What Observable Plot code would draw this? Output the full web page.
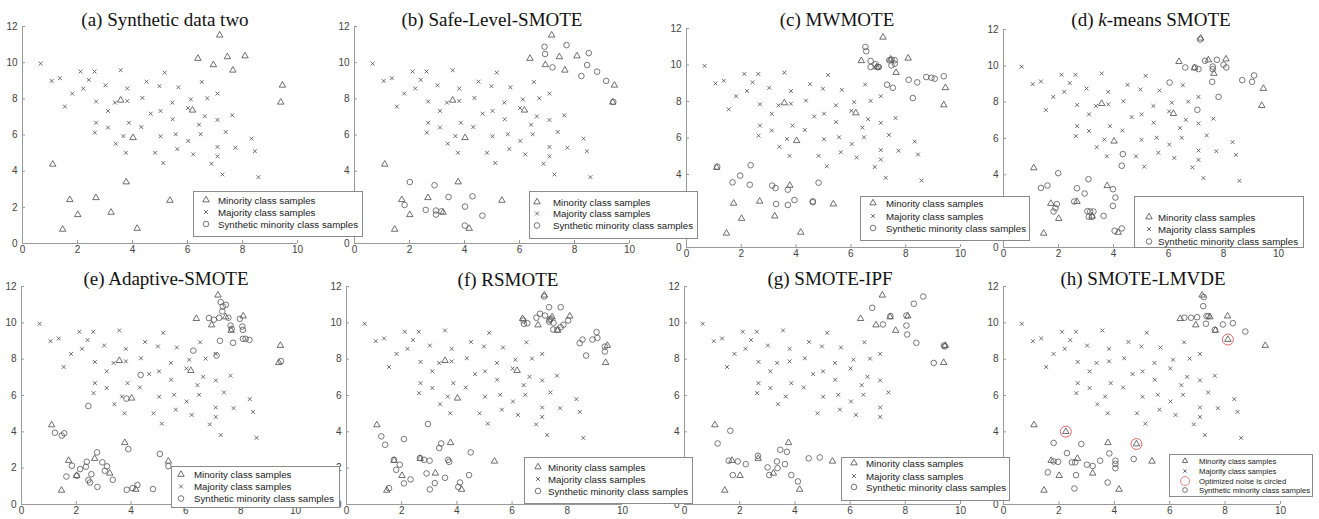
<!DOCTYPE html>
<html><head><meta charset="utf-8">
<script src="https://cdn.jsdelivr.net/npm/d3@7"></script>
<script src="https://cdn.jsdelivr.net/npm/@observablehq/plot@0.6"></script>
<style>
html,body{margin:0;padding:0;background:#fff;}
#root{position:relative;width:1319px;height:519px;overflow:hidden;background:#fff;}
.panel{position:absolute;}
.panel svg{overflow:visible;display:block;}
#overlay{position:absolute;left:0;top:0;pointer-events:none;}
</style></head><body><div id="root"></div>
<script>
// ---------- data ----------
const xTicks = [0, 2, 4, 6, 8, 10];
const yTicks = [0, 2, 4, 6, 8, 10, 12];

const majority = [
 [0.66,9.95],[1.06,8.99],[1.36,9.14],[1.54,7.57],[1.81,8.29],[2.11,9.51],[2.21,8.57],[2.41,9.05],[2.62,9.51],[2.68,7.85],
 [2.68,6.68],[2.63,6.13],[3.02,8.75],[3.11,7.33],[3.11,6.41],[3.36,7.79],[3.39,5.52],[3.57,9.58],[3.67,5.94],[3.76,5.02],
 [3.81,8.57],[3.81,7.88],[3.87,6.68],[4.36,8.05],[4.32,6.44],[4.51,8.95],[4.66,7.18],[4.82,5.02],[4.98,8.70],[5.02,7.33],
 [5.02,5.93],[5.12,4.45],[5.17,9.45],[5.45,7.79],[5.46,6.87],[5.57,6.04],[5.63,5.22],[5.67,8.64],[6.02,7.49],[6.03,5.67],
 [6.12,7.97],[6.21,4.93],[6.52,8.93],[6.63,7.03],[6.42,6.57],[6.48,6.04],[6.72,8.03],[7.09,8.29],[7.09,6.83],[7.09,5.34],
 [7.09,4.82],[6.87,4.41],[7.27,3.82],[7.63,7.09],[7.39,6.17],[7.74,5.30],[8.33,5.80],[8.45,5.10],[8.58,3.67]
];
// majority samples filtered out by SMOTE-IPF
const ipfRemovedMajority = [[3.76,5.02],[5.12,4.45],[6.87,4.41],[7.27,3.82],[7.63,7.09],[7.74,5.30],[8.33,5.80],[8.45,5.10],[8.58,3.67]];

const minority = [
 [7.17,11.52],[6.38,10.23],[6.94,9.88],[7.45,10.32],[8.09,10.37],[7.65,9.58],[9.45,8.75],[9.39,7.81],[3.57,7.92],[6.18,7.37],
 [4.02,5.85],[1.10,4.38],[3.77,3.40],[1.72,2.42],[2.67,2.53],[5.36,2.38],[3.22,1.72],[2.01,1.59],[1.46,0.78],[4.17,0.83]
];
const ipfRemovedMinority = [[3.57,7.92],[6.18,7.37],[4.02,5.85]];
const lmvdeRemovedMinority = [[3.57,7.92],[6.18,7.37],[4.02,5.85],[9.39,7.81]];
const lmvdeOptimized = [[2.25,4.01],[4.80,3.33],[8.10,9.08]];

const synthB = [[6.91,10.88],[7.71,10.97],[6.93,10.48],[7.20,9.74],[8.52,10.53],[8.46,9.87],[8.25,9.26],[8.82,9.50],[9.15,8.99],[9.41,7.83],
 [2.01,3.40],[2.91,3.22],[1.82,2.13],[2.59,1.86],[2.96,1.82],[2.96,1.60],[3.16,1.78],[3.42,2.57],[4.29,2.61],[4.02,2.04],[4.65,1.54],[4.01,0.99]];
const synthC = [[6.53,10.99],[6.56,10.75],[6.72,10.22],[6.72,9.89],[6.90,10.04],[6.98,9.89],[7.02,9.89],[7.40,10.26],[7.49,10.29],[7.48,9.98],
 [7.60,10.26],[7.60,10.07],[7.32,8.92],[7.53,8.75],[8.11,9.19],[8.42,9.05],[8.26,8.19],[8.75,9.34],[8.94,9.30],[9.06,9.25],[9.39,9.38],
 [1.12,4.43],[1.68,3.57],[1.96,3.94],[2.34,4.51],[2.31,3.44],[3.13,3.39],[3.25,3.26],[3.70,3.17],[4.82,3.55],[3.27,2.38],[3.70,2.33],
 [3.94,2.60],[4.61,2.53],[4.61,2.48]];
const synthD = [[7.15,11.45],[6.61,9.91],[6.96,9.91],[7.09,9.82],[7.33,10.28],[7.76,10.33],[7.61,9.96],[7.61,9.82],[8.00,10.06],[8.10,9.91],
 [7.59,9.12],[7.82,8.29],[7.05,7.58],[6.04,9.08],[8.68,9.21],[9.04,9.12],[9.11,9.47],[4.34,5.14],[4.30,4.50],[1.99,4.09],[1.36,3.28],
 [1.60,3.41],[3.09,3.76],[2.67,3.26],[2.95,2.97],[3.98,3.21],[4.07,2.75],[2.57,2.53],[1.94,2.39],[1.89,2.17],[1.82,1.98],[3.05,2.00],
 [3.15,1.98],[3.27,1.98],[3.10,1.69],[3.22,1.69],[3.64,1.74],[3.98,2.29],[4.04,0.92],[4.30,1.05]];
const synthE = [[7.27,11.14],[7.35,10.90],[7.46,10.99],[7.33,10.63],[7.55,10.28],[7.21,10.28],[7.02,10.17],[6.84,10.26],[7.97,10.22],[7.63,9.85],
 [7.67,9.67],[8.06,9.80],[8.08,9.61],[8.08,9.12],[8.18,9.12],[8.32,9.06],[7.24,9.01],[7.72,8.90],[6.27,8.47],[7.12,8.20],[9.47,7.89],
 [4.35,7.13],[3.83,5.83],[2.44,5.42],[1.22,3.95],[1.47,3.79],[1.56,3.92],[3.90,3.05],[2.76,2.87],[2.95,2.32],[3.12,2.10],[3.04,1.86],
 [1.84,2.13],[2.14,1.95],[2.35,2.08],[2.38,2.35],[2.55,1.67],[2.44,1.34],[2.50,1.21],[2.77,0.97],[2.02,1.58],[1.64,1.54],[3.33,1.36],
 [3.84,0.81],[4.05,0.90],[4.23,1.07],[4.80,0.85],[5.05,2.78],[5.36,2.11]];
const synthF = [[7.16,11.45],[7.34,10.86],[7.76,10.86],[6.88,10.28],[7.01,10.50],[7.19,10.40],[7.36,10.17],[7.50,10.00],[7.34,10.07],[7.40,10.22],
 [6.43,9.94],[6.55,9.98],[6.41,10.13],[7.49,9.63],[7.64,9.63],[7.76,9.76],[7.86,9.89],[8.03,10.13],[8.45,8.88],[8.55,9.08],[8.68,8.20],
 [8.91,9.08],[9.06,9.49],[9.09,9.17],[9.36,8.69],[9.36,8.42],[2.95,4.43],[1.26,3.75],[1.40,3.29],[2.08,3.60],[3.43,3.36],[3.36,3.11],
 [4.50,2.87],[1.72,2.46],[1.93,2.19],[1.80,1.91],[2.08,1.16],[2.32,1.38],[2.81,2.46],[3.01,2.41],[2.66,2.56],[2.90,1.71],[3.20,1.18],
 [3.02,0.83],[3.57,1.47],[3.68,2.46],[3.72,2.35],[4.11,1.21],[4.05,0.97],[4.44,1.62],[1.54,0.90]];
const synthG = [[8.65,11.45],[8.31,11.05],[6.80,10.83],[7.46,10.37],[8.04,10.40],[7.19,9.91],[8.04,9.85],[8.07,9.36],[8.40,8.90],[9.40,8.75],
 [9.43,8.70],[9.03,7.79],[1.20,3.36],[1.66,4.06],[1.60,2.41],[1.93,2.37],[2.22,2.22],[1.75,1.62],[2.66,2.68],[3.47,3.01],[3.71,2.90],
 [3.35,2.37],[3.64,2.22],[3.01,2.04],[3.07,1.62],[3.37,2.00],[3.87,1.62],[4.11,1.27],[4.50,2.54],[4.90,2.59]];
const synthH = [[7.23,11.42],[7.21,10.92],[6.53,10.28],[6.77,10.28],[6.99,10.31],[7.33,10.37],[7.40,10.37],[7.31,9.95],[7.92,9.91],[8.28,9.98],
 [7.63,9.62],[8.73,9.52],[1.81,3.39],[2.81,3.33],[2.29,2.83],[3.82,2.81],[1.81,2.37],[1.97,2.35],[2.47,2.32],[2.59,2.32],[3.01,2.19],
 [3.22,2.12],[3.49,2.41],[4.04,2.41],[4.04,2.23],[4.04,2.00],[4.70,2.50],[1.60,1.77],[2.62,1.62],[3.76,1.21],[2.56,0.88]];

const titles = [
 [["(a) Synthetic data two", false]],
 [["(b) Safe-Level-SMOTE", false]],
 [["(c) MWMOTE", false]],
 [["(d) ", false], ["k", true], ["-means SMOTE", false]],
 [["(e) Adaptive-SMOTE", false]],
 [["(f) RSMOTE", false]],
 [["(g) SMOTE-IPF", false]],
 [["(h) SMOTE-LMVDE", false]]
];
const legendLabels = ["Minority class samples", "Majority class samples", "Synthetic minority class samples"];
const legendLabelsH = ["Minority class samples", "Majority class samples", "Optimized noise is circled", "Synthetic minority class samples"];

// ---------- composition ----------
const without = (arr, rem) => arr.filter(p => !rem.some(q => q[0] === p[0] && q[1] === p[1]));
const majorityIPF = without(majority, ipfRemovedMajority);
const minorityIPF = without(minority, ipfRemovedMinority);
const minorityLMVDE = without(minority, lmvdeRemovedMinority).concat(lmvdeOptimized);

const sets = [
 {maj: majority, min: minority, syn: [], noise: []},
 {maj: majority, min: minority, syn: synthB, noise: []},
 {maj: majority, min: minority, syn: synthC, noise: []},
 {maj: majority, min: minority, syn: synthD, noise: []},
 {maj: majority, min: minority, syn: synthE, noise: []},
 {maj: majority, min: minority, syn: synthF, noise: []},
 {maj: majorityIPF, min: minorityIPF, syn: synthG, noise: []},
 {maj: majority, min: minorityLMVDE, syn: synthH, noise: lmvdeOptimized}
];

// ---------- layout (page pixels) ----------
const layout = [
 {x0:22, x10:297, y12:26, y0:243, tx:165, ty:26, lg:{box:[193,191,362,236], rows:[200,212,224], sx:206, tx:218, fs:9.7}},
 {x0:354, x10:629, y12:26, y0:243, tx:492, ty:26, lg:{box:[529,191,697,238], rows:[202,213.5,225.5], sx:537, tx:553, fs:9.7}},
 {x0:686, x10:960, y12:28, y0:247, tx:837, ty:26, lg:{box:[860,196,1029,240], rows:[203,216,228], sx:873, tx:886, fs:9.7}},
 {x0:1003, x10:1278, y12:29, y0:247, tx:1151, ty:26, lg:{box:[1134,196,1303,247], rows:[217,229,241.5], sx:1149, tx:1158, fs:9.7}},
 {x0:21, x10:295, y12:286, y0:504, tx:166, ty:285, lg:{box:[171,466,339,507], rows:[474.5,486.5,498.5], sx:181, tx:194, fs:9.7}},
 {x0:346, x10:622, y12:286, y0:504, tx:508, ty:286, lg:{box:[524,457,692,503], rows:[467,479,491], sx:538, tx:548, fs:9.7}},
 {x0:684, x10:960, y12:286, y0:504, tx:830, ty:285, lg:{box:[841,457,1009,500], rows:[463,476,487], sx:854, tx:866, fs:9.7}},
 {x0:1003, x10:1280, y12:286, y0:504, tx:1143, ty:285, lg:{box:[1169,454,1312,496], rows:[461,471,481,490], sx:1185, tx:1199, fs:7.7}}
];

const ML = 26, MR = 12, MT = 30, MB = 20;
const R_TRI = 2.4, R_TIMES = 1.9, R_CIRC = 2.8, R_NOISE = 5.5;
const symTimes = d3.symbolTimes || d3.symbolCross;
const markColor = "#4a4a4a";
const axisColor = "#9a9a9a";
const root = document.getElementById("root");

layout.forEach((L, i) => {
  const S = sets[i];
  const w = L.x10 - L.x0 + ML + MR;
  const h = L.y0 - L.y12 + MT + MB;
  const fig = Plot.plot({
    width: w, height: h,
    marginLeft: ML, marginRight: MR, marginTop: MT, marginBottom: MB,
    x: {domain: [0, 10]},
    y: {domain: [0, 12]},
    style: {background: "transparent", fontFamily: "'Liberation Sans', Arial, sans-serif", fontSize: "10px", overflow: "visible"},
    marks: [
      Plot.ruleY([0], {stroke: axisColor, strokeWidth: 1}),
      Plot.ruleX([0], {stroke: axisColor, strokeWidth: 1}),
      Plot.axisX({ticks: xTicks, tickSize: -3, tickPadding: 5, stroke: axisColor, fill: "#444", label: null, fontSize: 10}),
      Plot.axisY({ticks: yTicks, tickSize: -3, tickPadding: 8, stroke: axisColor, fill: "#444", label: null, fontSize: 10}),
      Plot.dot(S.maj, {x: d => d[0], y: d => d[1], symbol: symTimes, r: R_TIMES, stroke: markColor, fill: "none", strokeWidth: 0.8}),
      Plot.dot(S.min, {x: d => d[0], y: d => d[1], symbol: "triangle", r: R_TRI, stroke: markColor, fill: "none", strokeWidth: 0.8}),
      Plot.dot(S.syn, {x: d => d[0], y: d => d[1], symbol: "circle", r: R_CIRC, stroke: "#555", fill: "none", strokeWidth: 0.8}),
      Plot.dot(S.noise, {x: d => d[0], y: d => d[1], symbol: "circle", r: R_NOISE, stroke: "#e06666", fill: "none", strokeWidth: 1})
    ]
  });
  const div = document.createElement("div");
  div.className = "panel";
  div.style.left = (L.x0 - ML) + "px";
  div.style.top = (L.y12 - MT) + "px";
  div.appendChild(fig);
  root.appendChild(div);
});

// ---------- overlay: titles & legends ----------
const ov = d3.select(root).append("svg").attr("id", "overlay").attr("width", 1319).attr("height", 519);
layout.forEach((L, i) => {
  const t = ov.append("text").attr("x", L.tx).attr("y", L.ty).attr("text-anchor", "middle")
    .attr("font-family", "'Liberation Serif', 'Times New Roman', serif").attr("font-size", 19).attr("fill", "#111");
  titles[i].forEach(([s, it]) => t.append("tspan").attr("font-style", it ? "italic" : "normal").text(s));

  const g = L.lg;
  const [bx0, by0, bx1, by1] = g.box;
  ov.append("rect").attr("x", bx0 + 0.5).attr("y", by0 + 0.5).attr("width", bx1 - bx0).attr("height", by1 - by0)
    .attr("fill", "#fff").attr("stroke", "#8a8a8a").attr("stroke-width", 1);
  const isH = i === 7;
  const labels = isH ? legendLabelsH : legendLabels;
  const k = isH ? 0.85 : 1;
  const syms = isH
    ? [[d3.symbolTriangle, R_TRI * k, markColor], [symTimes, R_TIMES * k, markColor], [d3.symbolCircle, 4.5, "#e06666"], [d3.symbolCircle, R_CIRC * k, "#555"]]
    : [[d3.symbolTriangle, R_TRI, markColor], [symTimes, R_TIMES, markColor], [d3.symbolCircle, R_CIRC, "#555"]];
  labels.forEach((lab, j) => {
    const [sym, r, col] = syms[j];
    ov.append("path").attr("transform", `translate(${g.sx},${g.rows[j]})`)
      .attr("d", d3.symbol(sym, Math.PI * r * r)()).attr("fill", "none").attr("stroke", col).attr("stroke-width", 0.8);
    ov.append("text").attr("x", g.tx).attr("y", g.rows[j]).attr("dominant-baseline", "central")
      .attr("font-family", "'Liberation Sans', Arial, sans-serif").attr("font-size", g.fs).attr("fill", "#222").text(lab);
  });
});
</script></body></html>
